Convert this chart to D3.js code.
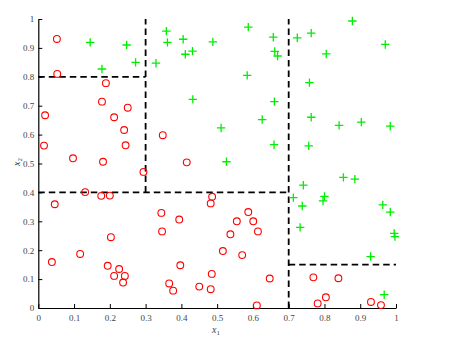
<!DOCTYPE html>
<html><head><meta charset="utf-8">
<script src="https://cdn.jsdelivr.net/npm/d3@7"></script>
<style>body{margin:0;background:#fff}svg{display:block}</style>
</head><body>
<script>
const redX=[0.052,0.053,0.189,0.178,0.250,0.019,0.212,0.240,0.016,0.244,0.097,0.181,0.294,0.131,0.176,0.200,0.046,0.348,0.415,0.486,0.482,0.344,0.394,0.346,0.587,0.555,0.601,0.537,0.614,0.516,0.570,0.397,0.485,0.647,0.366,0.450,0.377,0.482,0.611,0.203,0.117,0.038,0.194,0.226,0.212,0.242,0.237,0.769,0.839,0.804,0.781,0.930,0.958];
const redY=[0.931,0.810,0.778,0.714,0.693,0.667,0.660,0.616,0.562,0.563,0.518,0.506,0.471,0.401,0.388,0.389,0.359,0.598,0.504,0.385,0.362,0.329,0.306,0.265,0.332,0.300,0.300,0.255,0.265,0.197,0.183,0.148,0.118,0.102,0.085,0.074,0.060,0.065,0.009,0.245,0.187,0.159,0.146,0.135,0.111,0.111,0.088,0.106,0.103,0.037,0.016,0.021,0.010];
const greenX=[0.145,0.247,0.272,0.178,0.329,0.358,0.361,0.405,0.411,0.431,0.488,0.587,0.657,0.661,0.669,0.584,0.432,0.660,0.878,0.724,0.763,0.970,0.805,0.758,0.511,0.626,0.659,0.526,0.763,0.841,0.903,0.984,0.756,0.853,0.885,0.741,0.713,0.800,0.796,0.738,0.963,0.984,0.732,0.995,0.997,0.929,0.967];
const greenY=[0.919,0.910,0.850,0.827,0.847,0.958,0.919,0.930,0.878,0.889,0.921,0.972,0.937,0.888,0.872,0.805,0.722,0.714,0.993,0.935,0.951,0.912,0.879,0.780,0.623,0.652,0.565,0.506,0.660,0.632,0.643,0.629,0.561,0.452,0.446,0.425,0.382,0.386,0.371,0.353,0.357,0.332,0.279,0.258,0.247,0.178,0.046];
// split segments: [x1,y1,x2,y2]
const splitX1=[0.3,0.7,0,0,0.7];
const splitY1=[0.4,0,0.8,0.4,0.15];
const splitX2=[0.3,0.7,0.3,0.7,1];
const splitY2=[1,1,0.8,0.4,0.15];
const ticks=[0,0.1,0.2,0.3,0.4,0.5,0.6,0.7,0.8,0.9,1];

const W=449,H=358;
const svg=d3.select("body").append("svg").attr("width",W).attr("height",H);
const x=d3.scaleLinear().domain([0,1]).range([38.3,396]);
const y=d3.scaleLinear().domain([0,1]).range([308,19]);
const fmt=d=>d===0?"0":d===1?"1":String(d);

const gx=svg.append("g").attr("transform",`translate(0,${y(0)})`)
  .call(d3.axisBottom(x).tickValues(ticks).tickFormat(fmt).tickSizeInner(-4).tickSizeOuter(0).tickPadding(5));
const gy=svg.append("g").attr("transform",`translate(${x(0)},0)`)
  .call(d3.axisLeft(y).tickValues(ticks).tickFormat(fmt).tickSizeInner(-4).tickSizeOuter(0).tickPadding(4));
[gx,gy].forEach(g=>{
  g.select(".domain").attr("stroke","#000").attr("stroke-width",1.2);
  g.selectAll(".tick line").attr("stroke","#000").attr("stroke-width",1);
  g.selectAll(".tick text").attr("fill","#444").style("font-family","'Liberation Serif','DejaVu Serif',serif").style("font-size","9px");
});
gx.selectAll(".tick text").attr("dy","0.9em");

// split lines
svg.append("g").selectAll("line").data(splitX1.map((d,i)=>i)).join("line")
  .attr("x1",i=>x(splitX1[i])).attr("y1",i=>y(splitY1[i]))
  .attr("x2",i=>x(splitX2[i])).attr("y2",i=>y(splitY2[i]))
  .attr("stroke","#000").attr("stroke-width",1.8).attr("stroke-dasharray","6.5,4");

// red circles
svg.append("g").selectAll("circle").data(redX.map((d,i)=>i)).join("circle")
  .attr("cx",i=>x(redX[i])).attr("cy",i=>y(redY[i])).attr("r",3.4)
  .attr("fill","none").attr("stroke","#ff0000").attr("stroke-width",1.1);

// green plus
const s=4.2;
svg.append("g").selectAll("path").data(greenX.map((d,i)=>i)).join("path")
  .attr("d",i=>{const cx=x(greenX[i]),cy=y(greenY[i]);return `M${cx-s},${cy}H${cx+s}M${cx},${cy-s}V${cy+s}`;})
  .attr("stroke","#00ee00").attr("stroke-width",1.3).attr("fill","none");

// axis labels
const xl=svg.append("text").attr("x",216).attr("y",333).attr("text-anchor","middle")
  .style("font-family","'Liberation Serif','DejaVu Serif',serif").style("font-size","10px").attr("fill","#444");
xl.append("tspan").style("font-style","italic").text("x");
xl.append("tspan").attr("dy",2).style("font-size","7px").text("1");
const yl=svg.append("text").attr("transform","translate(20,162) rotate(-90)").attr("text-anchor","middle")
  .style("font-family","'Liberation Serif','DejaVu Serif',serif").style("font-size","10px").attr("fill","#444");
yl.append("tspan").style("font-style","italic").text("x");
yl.append("tspan").attr("dy",2).style("font-size","7px").text("2");
</script>
</body></html>
